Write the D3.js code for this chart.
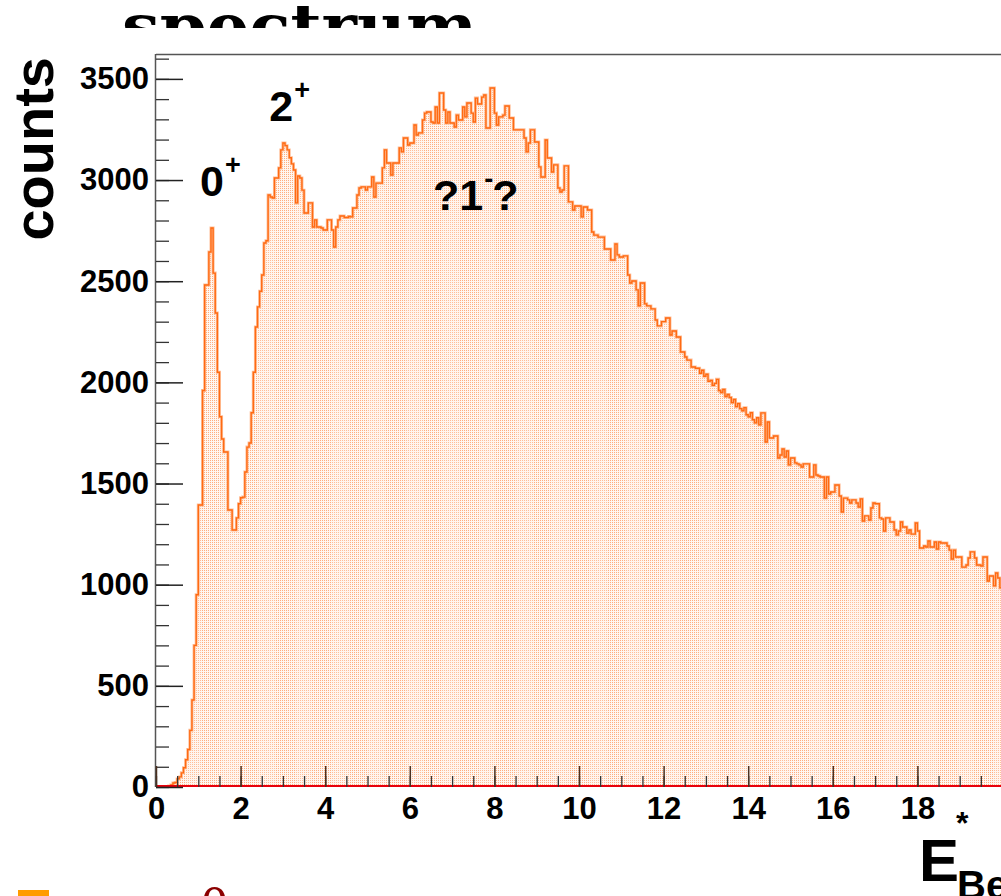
<!DOCTYPE html>
<html>
<head>
<meta charset="utf-8">
<script src="https://cdn.jsdelivr.net/npm/d3@7"></script>
<style>
  html, body { margin: 0; padding: 0; background: #fff; }
  svg { display: block; }
</style>
</head>
<body>
<svg id="chart" width="1001" height="896"></svg>
<script>
// Excitation-energy histogram: 0.05 MeV bins starting at 0
const binStart = 0;
const binWidth = 0.05;
const counts = [
  0,0,0,0,0,0,5,10,20,22,40,50,70,95,135,185,
  280,430,700,950,1394,1394,1960,2481,2481,2644,
  2763,2540,2343,2050,1830,1720,1656,1656,1369,1369,
  1270,1270,1330,1400,1430,1433,1557,1680,1700,1850,
  2050,2274,2373,2450,2531,2689,2700,2926,2916,2911,
  3010,3010,3060,3149,3183,3170,3149,3110,3080,3050,
  2887,3020,3010,2950,2837,2837,2887,2887,2768,2803,
  2768,2768,2763,2753,2753,2803,2803,2753,2669,2768,
  2803,2822,2822,2815,2815,2820,2818,2862,2862,2926,
  2961,2966,2966,2951,2966,2966,3015,2916,2985,2985,
  2985,3060,3149,3084,3084,3025,3084,3084,3084,3159,
  3139,3208,3208,3173,3183,3183,3272,3223,3233,3233,
  3297,3331,3336,3336,3287,3282,3361,3282,3430,3430,
  3346,3282,3336,3282,3282,3262,3321,3297,3297,3361,
  3312,3381,3381,3331,3287,3405,3376,3376,3410,3420,
  3257,3257,3455,3455,3331,3272,3312,3312,3321,3366,
  3366,3307,3307,3248,3248,3248,3248,3248,3208,3139,
  3183,3248,3248,3188,3188,3065,3015,3015,3198,3109,
  3109,3040,3075,3075,2961,2941,2951,3070,3070,2892,
  2892,2852,2872,2872,2872,2818,2867,2867,2852,2852,
  2743,2728,2728,2718,2718,2718,2659,2659,2659,2605,
  2605,2684,2630,2620,2620,2625,2625,2531,2491,2501,
  2501,2457,2378,2491,2491,2388,2378,2378,2363,2363,
  2308,2279,2279,2300,2300,2318,2318,2234,2254,2254,
  2224,2224,2150,2150,2125,2110,2110,2076,2076,2070,
  2070,2045,2060,2030,2040,2005,2010,1985,1995,2015,
  1960,1950,1965,1930,1940,1925,1900,1915,1880,1895,
  1870,1860,1875,1840,1830,1850,1815,1800,1825,1790,
  1849,1849,1705,1804,1725,1725,1735,1735,1626,1641,
  1671,1631,1661,1592,1626,1626,1602,1597,1592,1582,
  1597,1597,1597,1532,1532,1592,1542,1537,1532,1532,
  1428,1532,1448,1458,1458,1493,1493,1438,1359,1428,
  1428,1419,1404,1419,1419,1404,1384,1424,1315,1340,
  1340,1320,1379,1404,1400,1400,1330,1325,1265,1330,
  1330,1310,1310,1270,1246,1265,1310,1285,1285,1255,
  1270,1250,1250,1305,1265,1181,1181,1191,1186,1216,
  1186,1186,1211,1176,1211,1206,1206,1206,1191,1171,
  1127,1171,1137,1137,1137,1087,1087,1097,1132,1162,
  1162,1132,1097,1097,1092,1137,1137,1018,1043,1043,
  994,1058,1033,984
];

// Axis definitions
const xDomain = [0, 20];
const yDomain = [0, 3623];
const xMajorTicks = [0, 2, 4, 6, 8, 10, 12, 14, 16, 18];
const xMinorStep = 0.5;
const yMajorTicks = [0, 500, 1000, 1500, 2000, 2500, 3000, 3500];
const yMinorStep = 100;

// Peak annotations placed in data coordinates (baseline of the text)
const peakLabels = [
  { main: "0", sup: "+", e: 1.04, c: 2921 },
  { main: "2", sup: "+", e: 2.68, c: 3292 },
  { main: "?1", sup: "-", e: 6.55, c: 2852, tail: "?" }
];

const titleText = "spectrum";
const yTitle = "counts";
const legendText = "0";

const svg = d3.select("#chart");
const W = 1001, H = 896;
const frame = { left: 156, top: 54, right: 1002, bottom: 787 };

const x = d3.scaleLinear().domain(xDomain).range([frame.left, frame.right]);
const y = d3.scaleLinear().domain(yDomain).range([frame.bottom, frame.top]);

const bins = counts.map((c, i) => ({ x0: binStart + i * binWidth, x1: binStart + (i + 1) * binWidth, c }));

svg.append("rect").attr("width", W).attr("height", H).attr("fill", "#fff");

const defs = svg.append("defs");

// Dotted fill pattern of the histogram
const pat = defs.append("pattern").attr("id", "dots")
  .attr("patternUnits", "userSpaceOnUse").attr("width", 2).attr("height", 2);
pat.append("rect").attr("width", 2).attr("height", 2).attr("fill", "#fff5ee");
pat.append("rect").attr("width", 1).attr("height", 1).attr("fill", "#ffae80");

// Title, partly hidden above the pad
defs.append("clipPath").attr("id", "titleClip")
  .append("rect").attr("x", 0).attr("y", 0).attr("width", W).attr("height", 28);
svg.append("text")
  .attr("clip-path", "url(#titleClip)")
  .attr("x", 122).attr("y", 48)
  .attr("font-family", "'DejaVu Serif', 'Liberation Serif', serif")
  .attr("font-weight", "bold")
  .attr("font-size", 62)
  .attr("textLength", 355).attr("lengthAdjust", "spacingAndGlyphs")
  .attr("fill", "#000")
  .text(titleText);

defs.append("clipPath").attr("id", "plotClip")
  .append("rect").attr("x", frame.left).attr("y", frame.top)
  .attr("width", W - frame.left).attr("height", frame.bottom - frame.top + 1);

const g = svg.append("g").attr("clip-path", "url(#plotClip)");

// Histogram body
const area = d3.area().x(d => x(d[0])).y0(y(0)).y1(d => y(d[1])).curve(d3.curveStepAfter);
const stepPts = bins.map(d => [d.x0, d.c]).concat([[bins[bins.length - 1].x1, bins[bins.length - 1].c]]);
g.append("path").datum(stepPts).attr("d", area).attr("fill", "url(#dots)");

// Faint column edges of each bin
g.selectAll("line.edge").data(bins.filter(d => d.c > 0)).join("line")
  .attr("class", "edge")
  .attr("x1", d => Math.round(x(d.x0)) + 0.5).attr("x2", d => Math.round(x(d.x0)) + 0.5)
  .attr("y1", d => y(d.c)).attr("y2", y(0))
  .attr("stroke", "#ffffff")
  .attr("stroke-opacity", 0.2)
  .attr("stroke-width", 1);

// Histogram outline
const line = d3.line().x(d => x(d[0])).y(d => y(d[1])).curve(d3.curveStepAfter);
g.append("path").datum(stepPts)
  .attr("d", line)
  .attr("fill", "none")
  .attr("stroke", "#ffbf99")
  .attr("stroke-width", 3);
g.append("path").datum(stepPts)
  .attr("d", line)
  .attr("fill", "none")
  .attr("stroke", "#ff6a12")
  .attr("stroke-width", 1.4);

// Empty reference histogram lying on the baseline
g.append("line")
  .attr("x1", frame.left).attr("x2", W)
  .attr("y1", y(0) - 1).attr("y2", y(0) - 1)
  .attr("stroke", "#e8000b").attr("stroke-width", 2);

// Frame
svg.append("line").attr("x1", frame.left).attr("x2", W)
  .attr("y1", frame.top + 0.5).attr("y2", frame.top + 0.5)
  .attr("stroke", "#555").attr("stroke-width", 1.5);
svg.append("line").attr("x1", frame.left - 0.5).attr("x2", frame.left - 0.5)
  .attr("y1", frame.top).attr("y2", frame.bottom)
  .attr("stroke", "#555").attr("stroke-width", 1.5);

const fontSans = "'Liberation Sans', Arial, Helvetica, sans-serif";

// Y axis: ticks point into the frame, labels on the left
const yMinor = d3.range(yDomain[0], yDomain[1], yMinorStep);
svg.append("g").attr("transform", `translate(${frame.left},0)`)
  .call(d3.axisLeft(y).tickValues(yMinor).tickSizeInner(-13).tickSizeOuter(0).tickFormat(""))
  .call(a => a.select(".domain").remove())
  .call(a => a.selectAll("line").attr("stroke", "#333").attr("stroke-width", 1.3));
svg.append("g").attr("transform", `translate(${frame.left},0)`)
  .call(d3.axisLeft(y).tickValues(yMajorTicks).tickSizeInner(-27).tickSizeOuter(0).tickPadding(7).tickFormat(d3.format("d")))
  .call(a => a.select(".domain").remove())
  .call(a => a.selectAll("line").attr("stroke", "#222").attr("stroke-width", 1.5))
  .call(a => a.selectAll("text").attr("font-family", fontSans).attr("font-weight", "bold")
    .attr("font-size", 31).attr("fill", "#000"));

// X axis: ticks point up into the frame
const xMinor = d3.range(xDomain[0], xDomain[1] + 1e-9, xMinorStep);
svg.append("g").attr("transform", `translate(0,${frame.bottom})`)
  .call(d3.axisBottom(x).tickValues(xMinor).tickSizeInner(-11).tickSizeOuter(0).tickFormat(""))
  .call(a => a.select(".domain").remove())
  .call(a => a.selectAll("line").attr("stroke", "#333").attr("stroke-width", 1.3));
svg.append("g").attr("transform", `translate(0,${frame.bottom})`)
  .call(d3.axisBottom(x).tickValues(xMajorTicks).tickSizeInner(-21).tickSizeOuter(0).tickPadding(10).tickFormat(d3.format("d")))
  .call(a => a.select(".domain").remove())
  .call(a => a.selectAll("line").attr("stroke", "#4a3020").attr("stroke-width", 1.5))
  .call(a => a.selectAll("text").attr("font-family", fontSans).attr("font-weight", "bold")
    .attr("font-size", 31).attr("fill", "#000"));

// Axis titles
svg.append("text")
  .attr("transform", "translate(53,57) rotate(-90)")
  .attr("text-anchor", "end")
  .attr("font-family", fontSans).attr("font-weight", "bold").attr("font-size", 56)
  .attr("fill", "#000")
  .text(yTitle);

const xt = svg.append("g").attr("font-family", fontSans).attr("font-weight", "bold").attr("fill", "#000");
xt.append("text").attr("x", 919).attr("y", 881).attr("font-size", 60).text("E");
xt.append("text").attr("x", 956).attr("y", 834).attr("font-size", 32).text("*");
xt.append("text").attr("x", 957).attr("y", 899).attr("font-size", 40).text("Be");

// Peak labels
const pl = svg.append("g").attr("font-family", fontSans).attr("font-weight", "bold").attr("fill", "#000");
peakLabels.forEach(p => {
  const t = pl.append("text").attr("x", x(p.e)).attr("y", y(p.c)).attr("font-size", 43);
  t.append("tspan").text(p.main);
  t.append("tspan").attr("font-size", 27).attr("dy", -22).attr("dx", 1).text(p.sup);
  if (p.tail) t.append("tspan").attr("font-size", 43).attr("dy", 22).attr("dx", -1).text(p.tail);
});

// Legend entry at the bottom edge
svg.append("rect").attr("x", 18).attr("y", 890).attr("width", 31).attr("height", 10).attr("fill", "#ff9c00");
svg.append("text").attr("x", 201).attr("y", 923)
  .attr("font-family", "'Liberation Serif', 'DejaVu Serif', serif")
  .attr("font-size", 54).attr("fill", "#8b0000").text(legendText);
svg.append("text").attr("x", 244).attr("y", 918)
  .attr("font-family", "'Liberation Serif', 'DejaVu Serif', serif")
  .attr("font-size", 34).attr("fill", "#8b0000").text("+");
</script>
</body>
</html>
